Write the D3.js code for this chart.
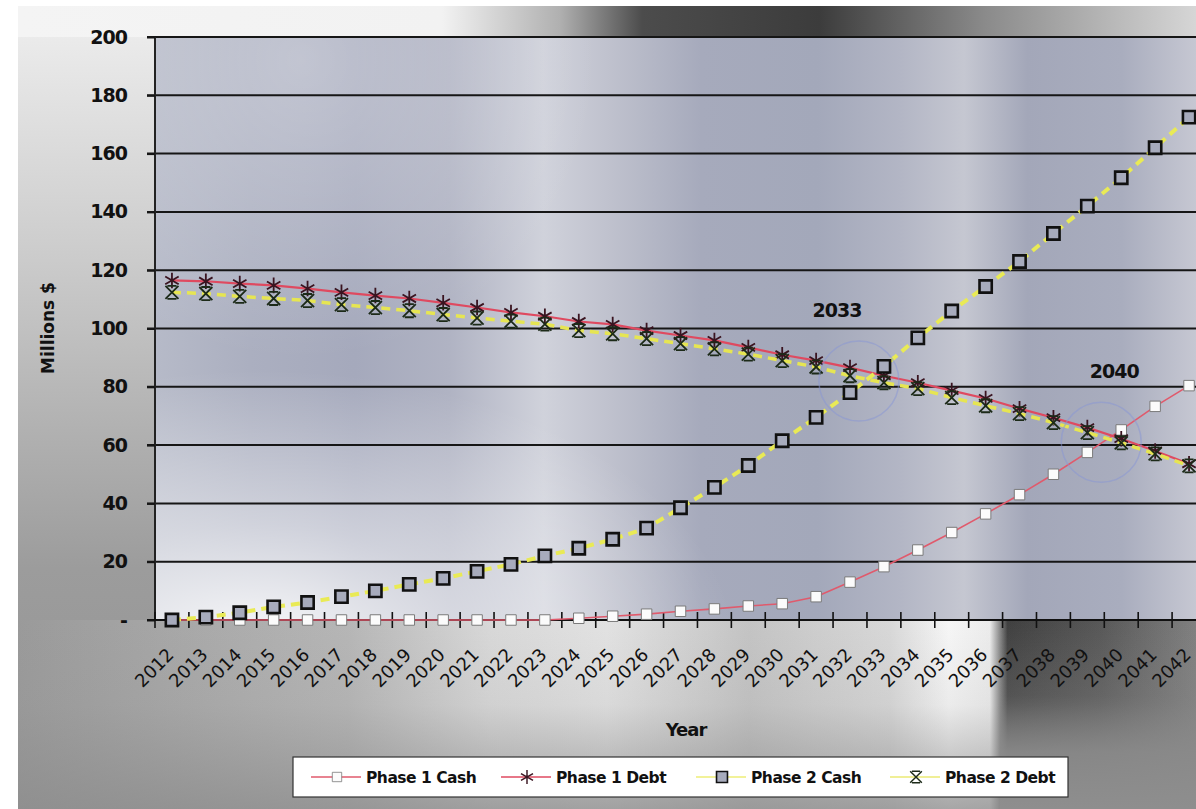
<!DOCTYPE html>
<html>
<head>
<meta charset="utf-8">
<script src="https://cdn.jsdelivr.net/npm/d3@7"></script>
<style>
  html, body { margin: 0; padding: 0; background: #fff; }
  svg { display: block; }
</style>
</head>
<body>
<svg id="chart" width="1196" height="809"></svg>
<script>
var years = ["2012","2013","2014","2015","2016","2017","2018","2019","2020","2021","2022",
  "2023","2024","2025","2026","2027","2028","2029","2030","2031","2032",
  "2033","2034","2035","2036","2037","2038","2039","2040","2041","2042"];

var phase1Cash = [0, 0, 0, 0, 0, 0, 0, 0, 0, 0, 0, 0,
  0.6, 1.3, 2, 3, 3.8, 4.8, 5.6, 8, 13, 18.3, 24, 30, 36.4, 43, 50, 57.5, 65.2, 73.3, 80.4];
var phase1Debt = [116.5, 116.2, 115.4, 114.8, 113.7, 112.4, 111.3, 110.3, 108.8, 107.2, 105.5, 104.2,
  102.4, 101.4, 99.3, 97.6, 95.9, 93.5, 91, 89, 86.6, 83.8, 81.4, 78.7, 76, 72.5, 69.4, 66, 62.2, 58, 53.6];
var phase2Cash = [0, 1, 2.5, 4.5, 6, 8, 10, 12.2, 14.3, 16.7, 19.1, 22,
  24.6, 27.7, 31.5, 38.5, 45.5, 53, 61.5, 69.5, 78, 87, 96.8, 106, 114.4, 123, 132.6, 142, 151.7, 162, 172.5];
var phase2Debt = [112.4, 112, 111, 110.3, 109.6, 108.2, 107.2, 106.1, 104.8, 103.6, 102.5, 101.5,
  99.3, 98.2, 96.5, 94.8, 93, 91.2, 89, 86.8, 83.8, 81.4, 79.4, 76.3, 73.5, 70.8, 67.7, 64.3, 60.8, 57, 52.9];

var yTicks = [0, 20, 40, 60, 80, 100, 120, 140, 160, 180, 200];
var yTickLabels = ["-", "20", "40", "60", "80", "100", "120", "140", "160", "180", "200"];

var seriesNames = ["Phase 1 Cash", "Phase 1 Debt", "Phase 2 Cash", "Phase 2 Debt"];

var callouts = [{label: "2033", year: "2033", value: 82}, {label: "2040", year: "2040", value: 61}];

(function Chart() {
  /* global d3 */
  var svg = d3.select("#chart"),
    plot = {left: 155, top: 37, right: 1206, bottom: 620};

  var defs = svg.append("defs");

  function linGrad(id, x1, y1, x2, y2, stops) {
    var gr = defs.append("linearGradient")
      .attr("id", id)
      .attr("gradientUnits", "userSpaceOnUse")
      .attr("x1", x1).attr("y1", y1).attr("x2", x2).attr("y2", y2);
    stops.forEach(function (s) {
      gr.append("stop").attr("offset", s[0]).attr("stop-color", s[1])
        .attr("stop-opacity", s[2] == null ? 1 : s[2]);
    });
  }
  function radGrad(id, cx, cy, r, stops, transform) {
    var gr = defs.append("radialGradient")
      .attr("id", id)
      .attr("gradientUnits", "userSpaceOnUse")
      .attr("cx", cx).attr("cy", cy).attr("r", r);
    if (transform) gr.attr("gradientTransform", transform);
    stops.forEach(function (s) {
      gr.append("stop").attr("offset", s[0]).attr("stop-color", s[1])
        .attr("stop-opacity", s[2] == null ? 1 : s[2]);
    });
  }

  // chart area background (grey brushed look)
  linGrad("bgBase", 0, 6, 0, 809, [[0, "#efefef"], [0.3, "#cdcdcd"], [0.7, "#9c9c9c"], [1, "#939393"]]);
  linGrad("bgTop", 18, 0, 1196, 0, [[0, "#f4f4f4"], [0.36, "#f2f2f2"], [0.46, "#b0b0b0"], [0.53, "#4c4c4c"],
    [0.68, "#3c3c3c"], [0.82, "#8a8a8a"], [1, "#d6d6d6"]]);
  linGrad("bgBottom", 18, 0, 1196, 0, [[0, "#9a9a9a"], [0.12, "#a6a6a6"], [0.28, "#b6b6b6"], [0.4, "#d8d8d8"],
    [0.5, "#e2e2e2"], [0.62, "#c4c4c4"], [0.74, "#d8d8d8"], [0.79, "#f6f6f6"], [0.825, "#ececec"],
    [0.84, "#404040"], [0.92, "#585858"], [1, "#808080"]]);
  linGrad("bgBottomFade", 0, 620, 0, 809, [[0, "#8c8c8c", 0], [0.45, "#8c8c8c", 0.1], [1, "#8c8c8c", 0.75]]);
  linGrad("bgCornerFade", 0, 620, 0, 809, [[0, "#888888", 0], [0.4, "#888888", 0.2], [0.7, "#8a8a8a", 0.9], [1, "#8e8e8e", 1]]);
  linGrad("plotBg", 155, 0, 1206, 0, [[0, "#b6bac8"], [0.09, "#abafc0"], [0.19, "#a5a9bc"], [0.28, "#b0b3c3"],
    [0.37, "#d0d2db"], [0.43, "#c0c2ce"], [0.52, "#a6aabc"], [0.63, "#a3a8ba"], [0.71, "#b3b6c5"],
    [0.77, "#c5c7d1"], [0.83, "#a3a7b9"], [0.92, "#a9adbe"], [1, "#cacbd5"]]);
  radGrad("plotGlow", 260, 650, 280, [[0, "#ffffff", 0.95], [0.45, "#ffffff", 0.45], [1, "#ffffff", 0]],
    "translate(260,650) scale(1.7,1) translate(-260,-650)");
  radGrad("plotGlowTop", 300, 60, 300, [[0, "#ffffff", 0.3], [1, "#ffffff", 0]]);

  svg.append("rect").attr("x", 18).attr("y", 6).attr("width", 1178).attr("height", 803)
    .attr("fill", "url(#bgBase)");
  svg.append("rect").attr("x", 18).attr("y", 6).attr("width", 1178).attr("height", 31)
    .attr("fill", "url(#bgTop)");
  svg.append("rect").attr("x", 18).attr("y", 620).attr("width", 1178).attr("height", 189)
    .attr("fill", "url(#bgBottom)");
  svg.append("rect").attr("x", 18).attr("y", 620).attr("width", 1178).attr("height", 189)
    .attr("fill", "url(#bgBottomFade)");
  svg.append("rect").attr("x", 1000).attr("y", 620).attr("width", 196).attr("height", 189)
    .attr("fill", "url(#bgCornerFade)");

  svg.append("rect")
    .attr("x", plot.left).attr("y", plot.top)
    .attr("width", plot.right - plot.left).attr("height", plot.bottom - plot.top)
    .attr("fill", "url(#plotBg)");
  svg.append("rect")
    .attr("x", plot.left).attr("y", plot.top)
    .attr("width", plot.right - plot.left).attr("height", plot.bottom - plot.top)
    .attr("fill", "url(#plotGlow)");
  svg.append("rect")
    .attr("x", plot.left).attr("y", plot.top)
    .attr("width", plot.right - plot.left).attr("height", plot.bottom - plot.top)
    .attr("fill", "url(#plotGlowTop)");

  var x = d3.scaleBand()
    .domain(years)
    .range([plot.left, plot.right]);
  var y = d3.scaleLinear()
    .domain([0, 200])
    .range([plot.bottom, plot.top]);

  function cx(i) { return x(years[i]) + x.bandwidth() / 2; }

  // gridlines
  svg.append("g")
    .attr("class", "grid")
    .selectAll("line")
    .data(yTicks.filter(function (d) { return d > 0; }))
    .enter().append("line")
      .attr("x1", plot.left - 8).attr("x2", plot.right)
      .attr("y1", function (d) { return y(d); })
      .attr("y2", function (d) { return y(d); })
      .attr("stroke", "#161616")
      .attr("stroke-width", 2);

  // y axis
  var yAxis = svg.append("g")
    .attr("transform", "translate(" + plot.left + ",0)")
    .call(d3.axisLeft(y)
      .tickValues(yTicks)
      .tickSize(8)
      .tickPadding(20)
      .tickFormat(function (d, i) { return yTickLabels[i]; }));
  yAxis.select(".domain").attr("stroke", "#222").attr("stroke-width", 2)
    .attr("d", "M0," + plot.top + "V" + plot.bottom);
  yAxis.selectAll(".tick line").attr("stroke", "#161616").attr("stroke-width", 2);
  yAxis.selectAll(".tick text")
    .attr("fill", "#111")
    .style("font-family", "'DejaVu Sans', sans-serif")
    .style("font-weight", "bold")
    .style("font-size", "19px")
    .style("letter-spacing", "-1px");

  // x axis
  var xAxis = svg.append("g")
    .attr("transform", "translate(0," + plot.bottom + ")");
  xAxis.append("line")
    .attr("x1", plot.left - 8).attr("x2", plot.right)
    .attr("stroke", "#111").attr("stroke-width", 2);
  xAxis.selectAll(".xtick")
    .data(years)
    .enter().append("line")
      .attr("class", "xtick")
      .attr("x1", function (d) { return x(d); })
      .attr("x2", function (d) { return x(d); })
      .attr("y1", -8).attr("y2", 8)
      .attr("stroke", "#111").attr("stroke-width", 1.6);
  xAxis.selectAll(".xlabel")
    .data(years)
    .enter().append("text")
      .attr("class", "xlabel")
      .attr("text-anchor", "end")
      .attr("transform", function (d) {
        return "translate(" + (x(d) + x.bandwidth() / 2 + 3) + "," + 36 + ") rotate(-45)";
      })
      .attr("fill", "#111")
      .style("font-family", "'DejaVu Sans', sans-serif")
      .style("font-size", "18px")
      .text(function (d) { return d; });

  // axis titles
  svg.append("text")
    .attr("x", 686).attr("y", 736)
    .attr("text-anchor", "middle")
    .style("font-family", "'DejaVu Sans', sans-serif")
    .style("font-weight", "bold")
    .style("font-size", "18px")
    .style("letter-spacing", "-1px")
    .attr("fill", "#111")
    .text("Year");
  svg.append("text")
    .attr("transform", "translate(54,328) rotate(-90)")
    .attr("text-anchor", "middle")
    .style("font-family", "'DejaVu Sans', sans-serif")
    .style("font-weight", "bold")
    .style("font-size", "17px")
    .attr("fill", "#111")
    .text("Millions $");

  // custom X marker with bars top and bottom
  var symbolBarX = {
    draw: function (ctx, size) {
      var r = Math.sqrt(size) * 0.5;
      ctx.moveTo(-r, -r); ctx.lineTo(r, r);
      ctx.moveTo(r, -r); ctx.lineTo(-r, r);
      ctx.moveTo(-r * 0.7, -r); ctx.lineTo(r * 0.7, -r);
      ctx.moveTo(-r * 0.7, r); ctx.lineTo(r * 0.7, r);
    }
  };

  var series = [
    {name: seriesNames[0], values: phase1Cash, line: "#e05a6c", width: 1.6, dash: null,
      symbol: d3.symbolSquare, size: 110, fill: "#fbfbfb", stroke: "#7a7a7a", sw: 1},
    {name: seriesNames[1], values: phase1Debt, line: "#df4a60", width: 2.2, dash: null,
      symbol: d3.symbolAsterisk, size: 170, fill: "none", stroke: "#3a1420", sw: 1.8},
    {name: seriesNames[2], values: phase2Cash, line: "#e9ea55", width: 4, dash: "9,6",
      symbol: d3.symbolSquare, size: 150, fill: "#a7abbc", stroke: "#111", sw: 2.6},
    {name: seriesNames[3], values: phase2Debt, line: "#e6e552", width: 3.5, dash: "9,6",
      symbol: symbolBarX, size: 170, fill: "none", stroke: "#1c2a18", sw: 1.8}
  ];

  var line = d3.line()
    .x(function (d, i) { return cx(i); })
    .y(function (d) { return y(d); });

  var gData = svg.append("g").attr("class", "data");

  series.forEach(function (s) {
    var g = gData.append("g");
    g.append("path")
      .attr("d", line(s.values))
      .attr("fill", "none")
      .attr("stroke", s.line)
      .attr("stroke-width", s.width)
      .attr("stroke-dasharray", s.dash);
    g.selectAll("path.mark")
      .data(s.values)
      .enter().append("path")
        .attr("class", "mark")
        .attr("transform", function (d, i) { return "translate(" + cx(i) + "," + y(d) + ")"; })
        .attr("d", d3.symbol().type(s.symbol).size(s.size))
        .attr("fill", s.fill)
        .attr("stroke", s.stroke)
        .attr("stroke-width", s.sw);
  });

  // callouts
  callouts.forEach(function (c, k) {
    var px = x(c.year) + x.bandwidth() / 2 - (k === 0 ? 25 : 20),
      py = y(c.value);
    svg.append("circle")
      .attr("cx", px).attr("cy", py).attr("r", 40)
      .attr("fill", "none")
      .attr("stroke", "#8796d6")
      .attr("stroke-opacity", 0.5)
      .attr("stroke-width", 1.5);
    svg.append("text")
      .attr("x", px - 22 + (k === 0 ? 0 : 35)).attr("y", py - 64)
      .attr("text-anchor", "middle")
      .style("font-family", "'DejaVu Sans', sans-serif")
      .style("font-weight", "bold")
      .style("font-size", "19px")
      .style("letter-spacing", "-1px")
      .attr("fill", "#111")
      .text(c.label);
  });

  // legend
  var legend = svg.append("g").attr("transform", "translate(293,757)");
  legend.append("rect")
    .attr("width", 775).attr("height", 40)
    .attr("fill", "#fff")
    .attr("stroke", "#333").attr("stroke-width", 1.2);
  var legendX = [44, 234, 429, 623];
  series.forEach(function (s, i) {
    var it = legend.append("g").attr("transform", "translate(" + legendX[i] + ",20)");
    it.append("line")
      .attr("x1", -26).attr("x2", 24)
      .attr("stroke", s.line)
      .attr("stroke-width", i < 2 ? 1.6 : 2)
      .attr("stroke-opacity", i < 2 ? 1 : 0.6);
    it.append("path")
      .attr("d", d3.symbol().type(s.symbol).size(s.size * 0.8))
      .attr("fill", s.fill)
      .attr("stroke", s.stroke)
      .attr("stroke-width", i === 2 ? 1.6 : s.sw * 0.8);
    it.append("text")
      .attr("x", 29).attr("y", 6)
      .style("font-family", "'DejaVu Sans', sans-serif")
      .style("font-weight", "bold")
      .style("font-size", "15.5px")
      .style("letter-spacing", "-0.5px")
      .attr("fill", "#111")
      .text(s.name);
  });
})();
</script>
</body>
</html>
